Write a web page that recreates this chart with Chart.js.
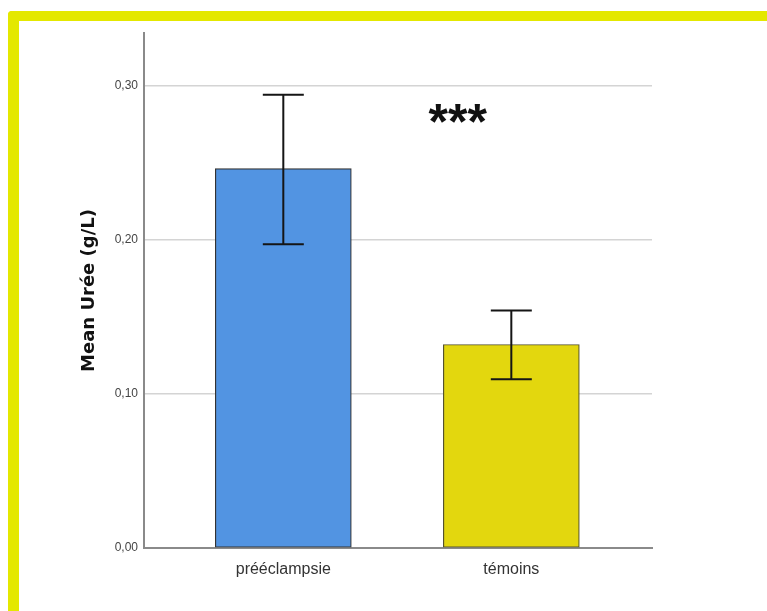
<!DOCTYPE html>
<html>
<head>
<meta charset="utf-8">
<script src="https://cdn.jsdelivr.net/npm/chart.js@4/dist/chart.umd.min.js"></script>
<style>
  html, body { margin: 0; padding: 0; background: #fff; overflow: hidden; }
  #frame {
    position: absolute; left: 8px; top: 11px;
    width: 800px; height: 590px;
    border-left: 11px solid #E4E800;
    border-top: 10px solid #E4E800;
    border-bottom: 6px solid #E4E800;
    border-top-left-radius: 4px;
  }
  #c { position: absolute; left: 0; top: 0; }
</style>
</head>
<body>
<div id="frame"></div>
<canvas id="c" width="767" height="611"></canvas>
<script>
// Mean urea (g/L) per group, with the error-bar limits
const categories = ['prééclampsie', 'témoins'];
const meanUree = [0.246, 0.132];
const errLower = [0.197, 0.1095];
const errUpper = [0.294, 0.154];
const yTicks = [0, 0.1, 0.2, 0.3];
const barColors = ['#5294E2', '#E3D70E'];
const barBorders = ['#333333', '#55522e'];
const significance = '***';

const errorBars = {
  id: 'errorBars',
  afterDatasetsDraw(chart) {
    const ctx = chart.ctx;
    const xs = chart.scales.x, ys = chart.scales.y;
    ctx.save();
    ctx.strokeStyle = '#151515';
    ctx.lineWidth = 2;
    categories.forEach((c, i) => {
      const x = xs.getPixelForValue(i);
      const yTop = ys.getPixelForValue(errUpper[i]);
      const yBot = ys.getPixelForValue(errLower[i]);
      const half = 20.5;
      ctx.beginPath();
      ctx.moveTo(x, yTop); ctx.lineTo(x, yBot);
      ctx.moveTo(x - half, yTop); ctx.lineTo(x + half, yTop);
      ctx.moveTo(x - half, yBot); ctx.lineTo(x + half, yBot);
      ctx.stroke();
    });
    // significance marker between the groups
    ctx.fillStyle = '#111';
    ctx.font = 'bold 50px "Liberation Sans", Arial, sans-serif';
    ctx.textAlign = 'center';
    ctx.textBaseline = 'alphabetic';
    ctx.fillText(significance, xs.getPixelForValue(0.765), ys.getPixelForValue(0.265));
    ctx.restore();
  }
};

Chart.defaults.font.family = '"Liberation Sans", Arial, sans-serif';

new Chart(document.getElementById('c'), {
  type: 'bar',
  data: {
    datasets: [{
      data: categories.map((c, i) => ({ x: i, y: meanUree[i] })),
      backgroundColor: barColors,
      borderColor: barBorders,
      borderWidth: 1.2,
      borderSkipped: false,
      barThickness: 136
    }]
  },
  options: {
    responsive: false,
    animation: false,
    devicePixelRatio: 1,
    layout: { padding: { top: 33, right: 115, left: 0, bottom: 0 } },
    plugins: { legend: { display: false }, tooltip: { enabled: false } },
    scales: {
      x: {
        type: 'linear',
        offset: false,
        min: -0.611,
        max: 1.617,
        afterBuildTicks: s => { s.ticks = categories.map((c, i) => ({ value: i })); },
        afterFit: s => { s.height = 63; },
        ticks: {
          callback: v => categories[v],
          color: '#333',
          font: { size: 16 },
          padding: 12,
          maxRotation: 0,
          autoSkip: false
        },
        grid: { display: false, drawTicks: false, offset: false },
        border: { display: true, color: '#8a8a8a', width: 2 }
      },
      y: {
        min: 0,
        max: 0.334,
        afterBuildTicks: s => { s.ticks = yTicks.map(v => ({ value: v })); },
        afterFit: s => { s.width = 144; },
        ticks: {
          callback: v => v.toFixed(2).replace('.', ','),
          color: '#444',
          font: { size: 12 },
          padding: 6
        },
        grid: { color: '#d4d4d4', lineWidth: 1.5, drawTicks: false },
        border: { display: true, color: '#8a8a8a', width: 2 },
        title: {
          display: true,
          text: 'Mean Urée (g/L)',
          color: '#111',
          font: { family: '"DejaVu Sans", Verdana, sans-serif', size: 18, weight: 'bold' },
          padding: { top: 79, bottom: 0 }
        }
      }
    }
  },
  plugins: [errorBars]
});
</script>
</body>
</html>
